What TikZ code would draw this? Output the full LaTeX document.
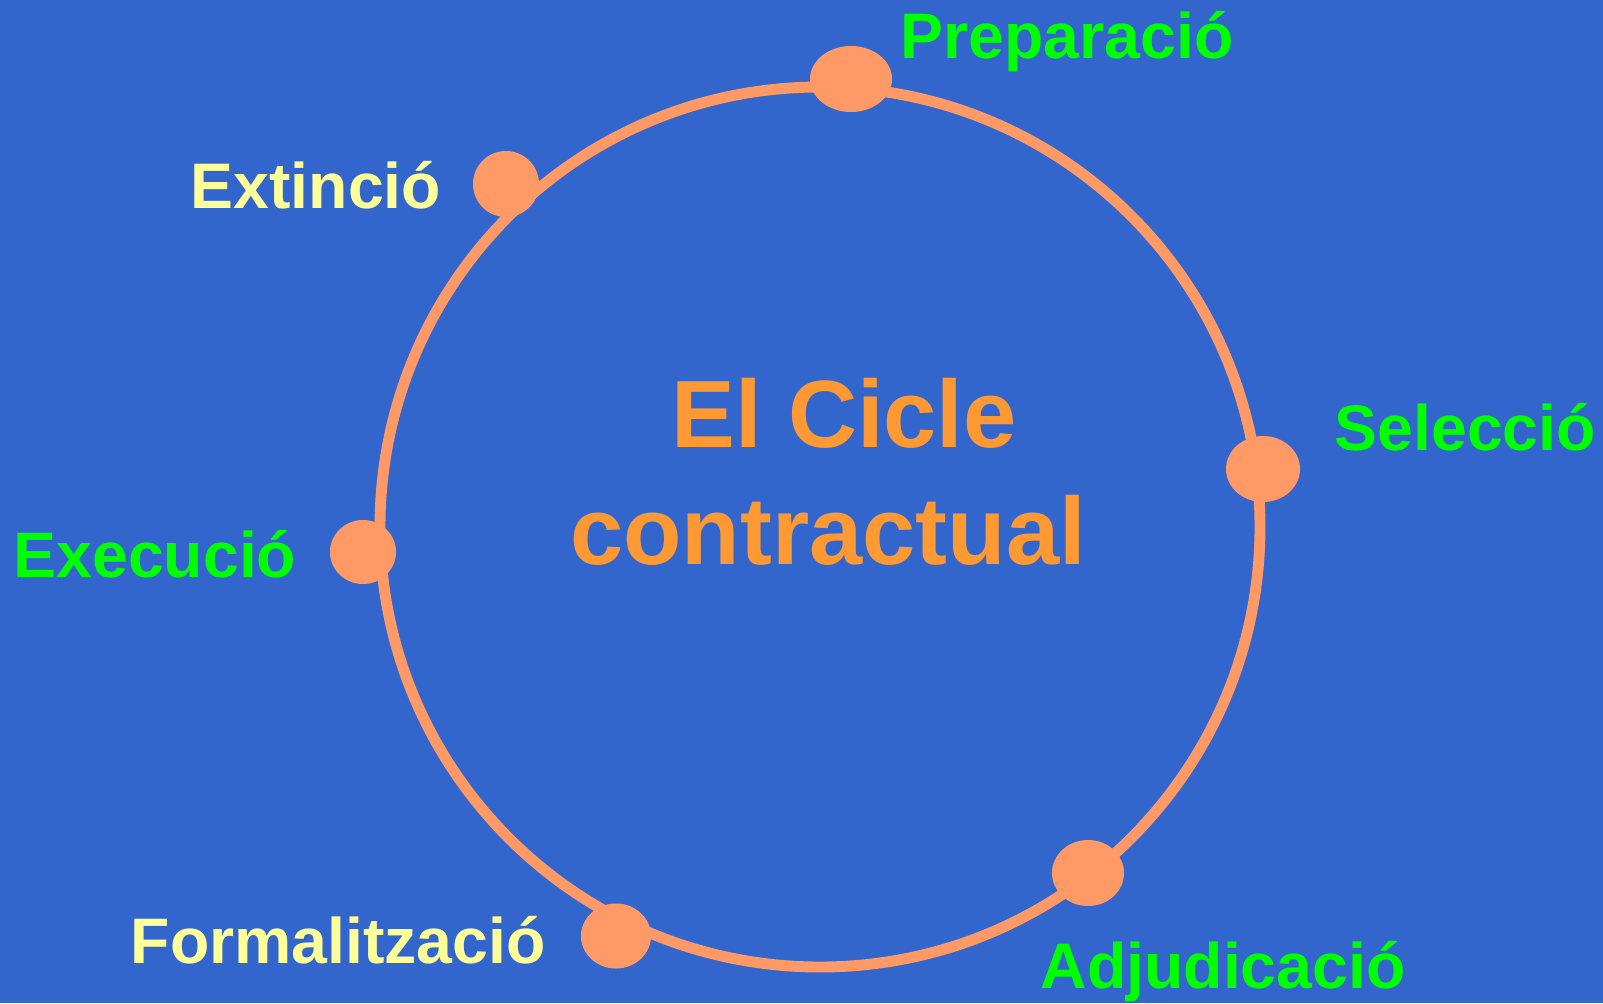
\documentclass[tikz,border=0pt]{standalone}
\usepackage{fontspec}
\setmainfont{Liberation Sans}
\usetikzlibrary{shapes.geometric}
\definecolor{bgblue}{HTML}{3366CC}
\definecolor{salmon}{HTML}{FF9966}
\definecolor{titleorange}{HTML}{FF9933}
\definecolor{phasegreen}{HTML}{00FF00}
\definecolor{phaseyellow}{HTML}{FFFF99}
\tikzset{
  stagedot/.style={ellipse, fill=salmon, inner sep=0pt},
  stagelabel/.style={anchor=base west, inner sep=0pt, font=\bfseries\fontsize{18.3}{22}\selectfont},
  titletext/.style={anchor=base, inner sep=0pt, text=titleorange, font=\bfseries\fontsize{27.2}{32}\selectfont},
}
\begin{document}
\begin{tikzpicture}[x=0.01cm,y=-0.01cm]
  \fill [bgblue] (0,0) rectangle (1603,1003);
  \useasboundingbox (0,0) rectangle (1603,1003);

  % the cycle
  \draw [salmon, line width=3.1pt] (820,527) circle (440);

  % stages on the cycle
  \node [stagedot, minimum width=0.82cm, minimum height=0.66cm] (prepdot) at (851,79) {};
  \node [stagedot, minimum width=0.74cm, minimum height=0.66cm] (seldot) at (1263,469) {};
  \node [stagedot, minimum width=0.72cm, minimum height=0.66cm] (adjdot) at (1088,873) {};
  \node [stagedot, minimum width=0.70cm, minimum height=0.65cm] (formdot) at (616,936) {};
  \node [stagedot, minimum width=0.66cm, minimum height=0.64cm] (exedot) at (363,552) {};
  \node [stagedot, minimum width=0.66cm, minimum height=0.66cm] (extdot) at (506,184) {};

  % stage names
  \node [stagelabel, text=phasegreen] (prep) at (900,58) {Preparació};
  \node [stagelabel, text=phasegreen] (sel) at (1334,450) {Selecció};
  \node [stagelabel, text=phasegreen] (adj) at (1040,988) {Adjudicació};
  \node [stagelabel, text=phaseyellow] (form) at (130,963) {Formalització};
  \node [stagelabel, text=phasegreen] (exe) at (13,577) {Execució};
  \node [stagelabel, text=phaseyellow] (ext) at (190,208) {Extinció};

  % title
  \node [titletext] (title) at (844,447) {El Cicle};
  \node [titletext] (subtitle) at (828,564) {contractual};
\end{tikzpicture}
\end{document}
